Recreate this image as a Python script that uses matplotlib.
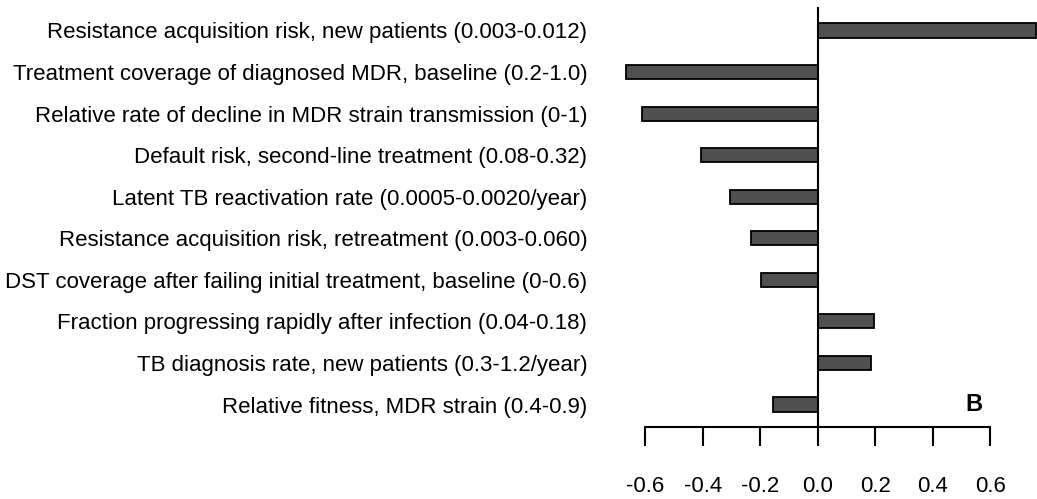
import matplotlib
matplotlib.use("Agg")
import matplotlib.pyplot as plt

plt.rcParams['font.family'] = ['Liberation Sans', 'DejaVu Sans']
plt.rcParams['axes.unicode_minus'] = False

labels = [
    "Resistance acquisition risk, new patients (0.003-0.012)",
    "Treatment coverage of diagnosed MDR, baseline (0.2-1.0)",
    "Relative rate of decline in MDR strain transmission (0-1)",
    "Default risk, second-line treatment (0.08-0.32)",
    "Latent TB reactivation rate (0.0005-0.0020/year)",
    "Resistance acquisition risk, retreatment (0.003-0.060)",
    "DST coverage after failing initial treatment, baseline (0-0.6)",
    "Fraction progressing rapidly after infection (0.04-0.18)",
    "TB diagnosis rate, new patients (0.3-1.2/year)",
    "Relative fitness, MDR strain (0.4-0.9)",
]
values = [0.758, -0.667, -0.610, -0.407, -0.305, -0.232, -0.197, 0.196, 0.184, -0.157]
xticks = [-0.6, -0.4, -0.2, 0.0, 0.2, 0.4, 0.6]
xticklabels = ["-0.6", "-0.4", "-0.2", "0.0", "0.2", "0.4", "0.6"]

W, H = 1037, 499
fig = plt.figure(figsize=(W / 100, H / 100), dpi=100)
left_px, right_px = 616.4, 1036.8
top_px, bot_px = 8.0, 427.0
ax = fig.add_axes([left_px / W, 1 - bot_px / H, (right_px - left_px) / W, (bot_px - top_px) / H])

pos = list(range(len(labels)))
ax.barh(pos, values, height=0.34, color="#505050", edgecolor="black", linewidth=1.3, zorder=2)

ax.set_xlim(-0.7, 0.762)
ax.set_ylim(len(labels) - 0.46, -0.54)

ax.spines['top'].set_visible(False)
ax.spines['right'].set_visible(False)
ax.spines['left'].set_position(('data', 0))
ax.spines['left'].set_linewidth(1.5)
ax.spines['left'].set_zorder(3)
ax.spines['bottom'].set_bounds(-0.6, 0.6)
ax.spines['bottom'].set_linewidth(1.5)

ax.set_xticks(xticks)
ax.set_xticklabels(xticklabels, fontsize=16)
ax.tick_params(axis='x', direction='out', length=13.5, width=1.5, pad=22)

ax.set_yticks(pos)
ax.set_yticklabels(labels, fontsize=16)
ax.tick_params(axis='y', length=0, pad=166)

ax.text(0.544, 9.0, "B", fontsize=17, fontweight='bold', ha='center', va='center')

fig.savefig("out.png", dpi=100)
